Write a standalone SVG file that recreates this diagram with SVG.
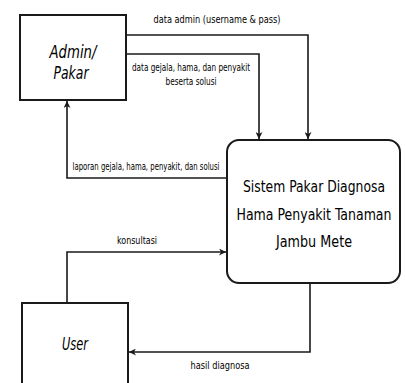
<svg xmlns="http://www.w3.org/2000/svg" width="405" height="383" viewBox="0 0 405 383">
<style>
text{font-family:"Liberation Sans Narrow","DejaVu Sans Condensed","Liberation Sans",sans-serif;fill:#000}
.box{fill:#fff;stroke:#1a1a1a;stroke-width:2}
.ent{font-style:italic;font-size:18px}
.proc{font-size:15px}
.lbl{font-size:10px}
.c{fill:none;stroke:#1a1a1a;stroke-width:1.6}
</style>
<defs>
<marker id="ah" viewBox="0 0 10 10" refX="10" refY="5" markerWidth="7" markerHeight="7" markerUnits="userSpaceOnUse" orient="auto">
<path d="M0,0 L10,5 L0,10 L3,5 Z" fill="#1a1a1a"/>
</marker>
</defs>
<g id="connectors">
<polyline class="c" points="126,35 308,35 308,139" marker-end="url(#ah)"/>
<polyline class="c" points="126,54 259,54 259,139" marker-end="url(#ah)"/>
<polyline class="c" points="227,178 67,178 67,101" marker-end="url(#ah)"/>
<polyline class="c" points="67,303 67,252 226,252" marker-end="url(#ah)"/>
<polyline class="c" points="310,283 310,352 129,352" marker-end="url(#ah)"/>
<text class="lbl" x="217" y="23" text-anchor="middle" textLength="127" lengthAdjust="spacingAndGlyphs">data admin (username &amp; pass)</text>
<text class="lbl" x="191" y="71" text-anchor="middle" textLength="118" lengthAdjust="spacingAndGlyphs">data gejala, hama, dan penyakit</text>
<text class="lbl" x="191" y="85" text-anchor="middle" textLength="51" lengthAdjust="spacingAndGlyphs">beserta solusi</text>
<text class="lbl" x="146" y="170" text-anchor="middle" textLength="147" lengthAdjust="spacingAndGlyphs">laporan gejala, hama, penyakit, dan solusi</text>
<text class="lbl" x="137" y="244" text-anchor="middle" textLength="40" lengthAdjust="spacingAndGlyphs">konsultasi</text>
<text class="lbl" x="220" y="369" text-anchor="middle" textLength="59" lengthAdjust="spacingAndGlyphs">hasil diagnosa</text>
</g>
<g id="admin">
<rect class="box" x="20" y="15" width="106" height="85"/>
<text class="ent" x="73" y="58" text-anchor="middle" textLength="47" lengthAdjust="spacingAndGlyphs">Admin/</text>
<text class="ent" x="71" y="79" text-anchor="middle" textLength="35" lengthAdjust="spacingAndGlyphs">Pakar</text>
</g>
<g id="sistem">
<rect class="box" x="227" y="140" width="173" height="143" rx="12" ry="12"/>
<text class="proc" x="314" y="192" text-anchor="middle" textLength="142" lengthAdjust="spacingAndGlyphs">Sistem Pakar Diagnosa</text>
<text class="proc" x="314" y="220" text-anchor="middle" textLength="155" lengthAdjust="spacingAndGlyphs">Hama Penyakit Tanaman</text>
<text class="proc" x="314" y="247" text-anchor="middle" textLength="76" lengthAdjust="spacingAndGlyphs">Jambu Mete</text>
</g>
<g id="user">
<rect class="box" x="22" y="303" width="106" height="90"/>
<text class="ent" x="75" y="350" text-anchor="middle" textLength="26" lengthAdjust="spacingAndGlyphs">User</text>
</g>
</svg>
